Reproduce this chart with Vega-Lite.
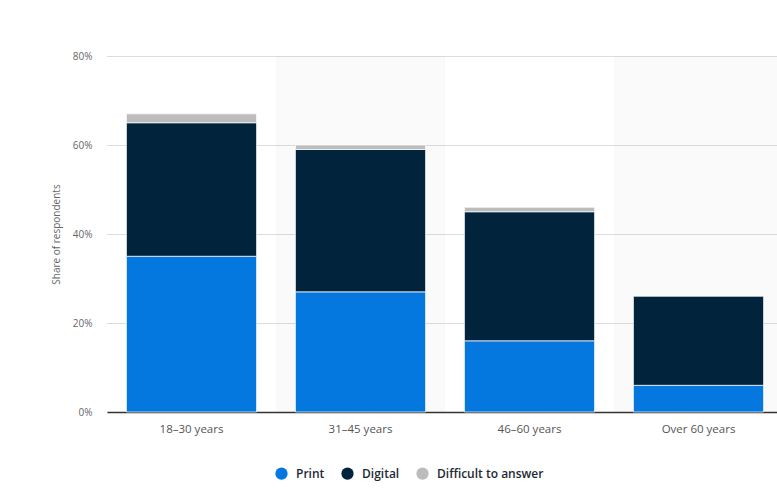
{
  "$schema": "https://vega.github.io/schema/vega-lite/v6.json",
  "autosize": "none",
  "width": 670,
  "height": 356,
  "padding": {"left": 107, "top": 56, "right": 0, "bottom": 79},
  "background": "#ffffff",
  "config": {
    "font": "Open Sans",
    "view": {"stroke": null}
  },
  "datasets": {
    "responses": [
      {"age": "18–30 years", "response": "Print", "value": 35},
      {"age": "18–30 years", "response": "Digital", "value": 30},
      {"age": "18–30 years", "response": "Difficult to answer", "value": 2},
      {"age": "31–45 years", "response": "Print", "value": 27},
      {"age": "31–45 years", "response": "Digital", "value": 32},
      {"age": "31–45 years", "response": "Difficult to answer", "value": 1},
      {"age": "46–60 years", "response": "Print", "value": 16},
      {"age": "46–60 years", "response": "Digital", "value": 29},
      {"age": "46–60 years", "response": "Difficult to answer", "value": 1},
      {"age": "Over 60 years", "response": "Print", "value": 6},
      {"age": "Over 60 years", "response": "Digital", "value": 20}
    ],
    "shade": [
      {"age": "31–45 years"},
      {"age": "Over 60 years"}
    ]
  },
  "layer": [
    {
      "data": {"name": "shade"},
      "mark": {"type": "rect", "fill": "#000000", "opacity": 0.02},
      "encoding": {
        "x": {
          "field": "age",
          "type": "nominal",
          "scale": {"domain": ["18–30 years", "31–45 years", "46–60 years", "Over 60 years"], "paddingInner": 0, "paddingOuter": 0, "range": [0, 676]},
          "axis": null
        },
        "y": {"datum": 0, "type": "quantitative"},
        "y2": {"datum": 80}
      }
    },
    {
      "data": {"name": "responses"},
      "mark": {"type": "bar", "stroke": "#ffffff", "strokeWidth": 0.7},
      "encoding": {
        "x": {
          "field": "age",
          "type": "nominal",
          "sort": ["18–30 years", "31–45 years", "46–60 years", "Over 60 years"],
          "scale": {"paddingInner": 0.23, "paddingOuter": 0.115, "range": [0, 676]},
          "axis": {
            "title": null,
            "labelAngle": 0,
            "ticks": false,
            "domainColor": "#333333",
            "domainWidth": 1.5,
            "labelColor": "#555555",
            "labelFontSize": 11.5,
            "labelPadding": 11
          }
        },
        "y": {
          "field": "value",
          "type": "quantitative",
          "stack": "zero",
          "scale": {"domain": [0, 80]},
          "axis": {
            "title": "Share of respondents",
            "titleFontSize": 10,
            "titleFontWeight": "normal",
            "titleColor": "#666666",
            "titlePadding": 11,
            "values": [0, 20, 40, 60, 80],
            "labelExpr": "datum.value + '%'",
            "labelColor": "#666666",
            "labelFontSize": 10,
            "labelPadding": 15,
            "ticks": false,
            "domain": false,
            "grid": true,
            "gridColor": "#bbbbbb",
            "gridDash": [1, 1],
            "gridWidth": 1
          }
        },
        "color": {
          "field": "response",
          "type": "nominal",
          "sort": ["Print", "Digital", "Difficult to answer"],
          "scale": {"domain": ["Print", "Digital", "Difficult to answer"], "range": ["#0478df", "#01243c", "#bcbcbc"]},
          "legend": {
            "title": null,
            "orient": "none",
            "direction": "horizontal",
            "legendX": 168,
            "legendY": 411,
            "symbolType": "circle",
            "symbolSize": 150,
            "symbolStrokeWidth": 0,
            "labelFontSize": 12,
            "labelFontWeight": 600,
            "labelColor": "#1d2a35",
            "labelOffset": 8,
            "columnPadding": 16
          }
        },
        "order": {"field": "response", "sort": "descending"}
      }
    }
  ],
  "resolve": {"scale": {"x": "independent"}}
}
